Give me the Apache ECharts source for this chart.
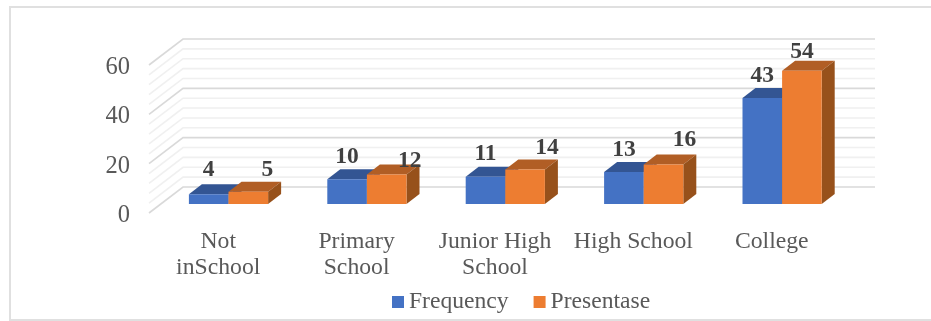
<!DOCTYPE html>
<html>
<head>
<meta charset="utf-8">
<style>html,body{margin:0;padding:0;background:#fff}#chart{width:931px;height:321px}</style>
<script src="https://cdn.jsdelivr.net/npm/echarts@6/dist/echarts.min.js"></script>
</head>
<body>
<div id="chart"></div>
<script>
const categories = ['Not\ninSchool', 'Primary\nSchool', 'Junior High\nSchool', 'High School', 'College'];
const frequency = [4, 10, 11, 13, 43];
const presentase = [5, 12, 14, 16, 54];
const wallTicks = [0, 4, 8, 12, 16, 20, 24, 28, 32, 36, 40, 44, 48, 52, 56, 60];
const orangeLabelNudge = [19, 23, 22, 21, 0];
const orangeLabelLift = [22, 13, 22, 25, 19];
const blueLabelNudge = [0, 0, 0, 0, 0];
const blueLabelLift = [24, 22, 23, 22, 22];

// Oblique projection: the axes sit on the front plane, the wall is pushed back.
const WALL_DX = 34, WALL_DY = -26;
const BAR_DX = 10.3, BAR_DY = -9;
const DEPTH_DX = 13, DEPTH_DY = -10;
const BAR_W = 39.6;

function wallItem(params, api) {
  const v = api.value(0);
  const cs = params.coordSys;
  const y = api.coord([0, v])[1];
  const major = v % 20 === 0;
  return {
    type: 'polyline',
    silent: true,
    shape: { points: [[cs.x, y], [cs.x + WALL_DX, y + WALL_DY], [cs.x + cs.width + WALL_DX, y + WALL_DY]] },
    style: { fill: null, stroke: major ? '#d9d9d9' : '#f0f0f0', lineWidth: 1.6 }
  };
}

function barRenderer(side, colors, labelNudge, labelLift) {
  return function (params, api) {
    const i = api.value(0), v = api.value(1);
    const base = api.coord([i, 0]), top = api.coord([i, v]);
    const x0 = base[0] + BAR_DX + (side < 0 ? -BAR_W : 0);
    const x1 = x0 + BAR_W;
    const yb = base[1] + BAR_DY, yt = top[1] + BAR_DY;
    const poly = (pts, fill) => ({ type: 'polygon', shape: { points: pts }, style: { fill } });
    return {
      type: 'group',
      children: [
        poly([[x0, yt], [x0 + DEPTH_DX, yt + DEPTH_DY], [x1 + DEPTH_DX, yt + DEPTH_DY], [x1, yt]], colors.top),
        poly([[x1, yt], [x1 + DEPTH_DX, yt + DEPTH_DY], [x1 + DEPTH_DX, yb + DEPTH_DY], [x1, yb]], colors.side),
        poly([[x0, yb], [x0, yt], [x1, yt], [x1, yb]], colors.front),
        {
          type: 'text',
          style: {
            x: (x0 + x1) / 2 + labelNudge[i],
            y: yt - labelLift[i],
            text: String(v),
            fill: '#404040',
            font: 'bold 23.5px "Liberation Serif"',
            align: 'center',
            verticalAlign: 'middle'
          }
        }
      ]
    };
  };
}

const chart = echarts.init(document.getElementById('chart'), null, { renderer: 'canvas' });
chart.setOption({
  animation: false,
  backgroundColor: '#ffffff',
  textStyle: { fontFamily: '"Liberation Serif"' },
  graphic: [{
    type: 'polyline',
    silent: true,
    z: -1,
    shape: { points: [[931, 7], [10, 7], [10, 320], [931, 320]] },
    style: { fill: null, stroke: '#e0e0e0', lineWidth: 2 }
  }],
  legend: {
    data: ['Frequency', 'Presentase'],
    left: 392,
    top: 290,
    padding: 0,
    itemWidth: 12,
    itemHeight: 12,
    itemGap: 25,
    icon: 'rect',
    textStyle: { fontSize: 23.6, color: '#595959', fontFamily: '"Liberation Serif"' }
  },
  grid: { left: 149, top: 65, width: 692, height: 148 },
  xAxis: {
    type: 'category',
    data: categories,
    axisLine: { show: false },
    axisTick: { show: false },
    axisLabel: { fontSize: 23.7, lineHeight: 26, color: '#595959', margin: 16, fontFamily: '"Liberation Serif"', interval: 0 }
  },
  yAxis: {
    type: 'value',
    min: 0,
    max: 60,
    interval: 20,
    axisLine: { show: false },
    axisTick: { show: false },
    splitLine: { show: false },
    axisLabel: { fontSize: 24.5, color: '#595959', margin: 19, verticalAlign: 'top', lineHeight: 5, fontFamily: '"Liberation Serif"' }
  },
  series: [
    {
      type: 'custom',
      name: 'wall',
      silent: true,
      z: 1,
      encode: { y: 0 },
      data: wallTicks.map(v => [v]),
      renderItem: wallItem
    },
    {
      type: 'custom',
      name: 'Frequency',
      z: 2,
      itemStyle: { color: '#4472C4' },
      encode: { x: 0, y: 1 },
      data: frequency.map((v, i) => [i, v]),
      renderItem: barRenderer(-1, { front: '#4472C4', top: '#335593', side: '#2f5290' }, blueLabelNudge, blueLabelLift)
    },
    {
      type: 'custom',
      name: 'Presentase',
      z: 3,
      itemStyle: { color: '#ED7D31' },
      encode: { x: 0, y: 1 },
      data: presentase.map((v, i) => [i, v]),
      renderItem: barRenderer(1, { front: '#ED7D31', top: '#B15E25', side: '#97511B' }, orangeLabelNudge, orangeLabelLift)
    }
  ]
});
</script>
</body>
</html>
